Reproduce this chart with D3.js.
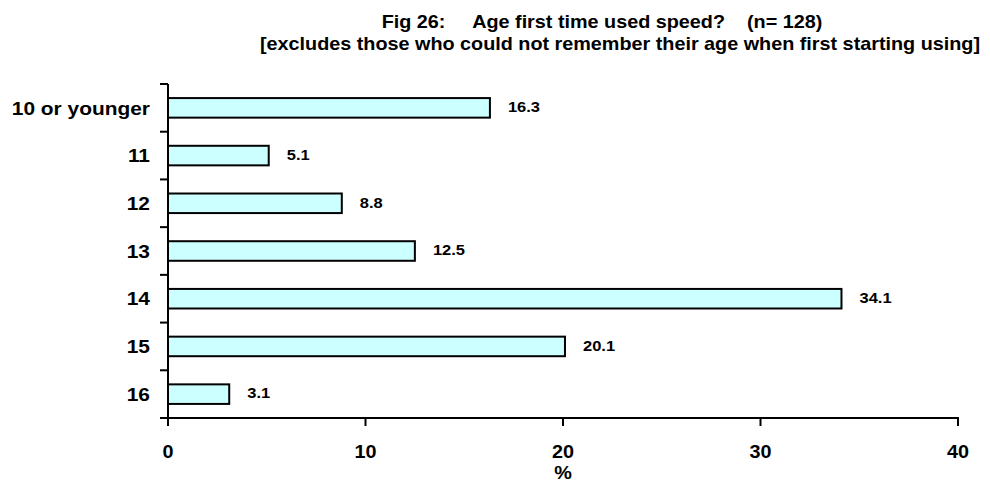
<!DOCTYPE html>
<html><head><meta charset="utf-8">
<script src="https://cdn.jsdelivr.net/npm/d3@7"></script>
<style>body{margin:0;background:#fff}svg{display:block;font-family:Arial,"Liberation Sans",sans-serif}</style>
</head><body><svg id="c" width="990" height="483"></svg>
<script>
const categories = ["10 or younger","11","12","13","14","15","16"];
const values = [16.3, 5.1, 8.8, 12.5, 34.1, 20.1, 3.1];
const xTicks = [0,10,20,30,40];
const titleLines = ["Fig 26:     Age first time used speed?    (n= 128)",
  "[excludes those who could not remember their age when first starting using]"];
const xTitle = "%";

const SX = 1.1; // horizontal glyph stretch of the original rendering
const svg = d3.select("#c");
const x = d3.scaleLinear().domain([0,40]).range([168,958]);
const y = d3.scaleBand().domain(categories).range([84,418]).paddingInner(0.59).paddingOuter(0.295);
const band = d3.scaleBand().domain(categories).range([84,418]);

function txt(sel, fx, fy){
  return sel.attr("x",0).attr("y",0)
    .attr("transform",(d,i)=>`translate(${fx(d,i)},${fy(d,i)}) scale(${SX},1)`)
    .attr("font-weight","bold").attr("fill","#000");
}

txt(svg.selectAll("text.title").data(titleLines).join("text"),
    (d,i)=> i===0 ? 602 : 620, (d,i)=>28+i*22)
  .attr("text-anchor","middle").attr("font-size",18).style("white-space","pre").text(d=>d);

svg.selectAll("rect.bar").data(values).join("rect")
  .attr("x", x(0)).attr("y",(d,i)=>y(categories[i])).attr("width",d=>x(d)-x(0))
  .attr("height", y.bandwidth()).attr("fill","#ccffff").attr("stroke","#000").attr("stroke-width",2);

txt(svg.selectAll("text.val").data(values).join("text"),
    d=>x(d)+18, (d,i)=>y(categories[i])+y.bandwidth()/2-1)
  .attr("dy","0.35em").attr("font-size",15).text(d=>d.toFixed(1));

// y axis
const ya = svg.append("g");
ya.append("line").attr("x1",x(0)).attr("x2",x(0)).attr("y1",84).attr("y2",418).attr("stroke","#000").attr("stroke-width",2);
const bounds = categories.map(c=>band(c)).concat([418]);
ya.selectAll("line.t").data(bounds).join("line").attr("x1",x(0)-8).attr("x2",x(0))
  .attr("y1",d=>d).attr("y2",d=>d).attr("stroke","#000").attr("stroke-width",2);
txt(ya.selectAll("text").data(categories).join("text"),
    ()=>150, d=>band(d)+band.bandwidth()/2)
  .attr("dy","0.35em").attr("text-anchor","end").attr("font-size",19).text(d=>d);

// x axis
const xa = svg.append("g");
xa.append("line").attr("x1",x(0)-1).attr("x2",x(40)+1).attr("y1",418).attr("y2",418).attr("stroke","#000").attr("stroke-width",2);
xa.selectAll("line.t").data(xTicks).join("line").attr("x1",d=>x(d)).attr("x2",d=>x(d))
  .attr("y1",418).attr("y2",426).attr("stroke","#000").attr("stroke-width",2);
txt(xa.selectAll("text").data(xTicks).join("text"), d=>x(d), ()=>458)
  .attr("text-anchor","middle").attr("font-size",18).text(d=>d);
txt(svg.append("text").datum(xTitle), ()=>563, ()=>479)
  .attr("text-anchor","middle").attr("font-size",18).text(d=>d);
</script></body></html>
